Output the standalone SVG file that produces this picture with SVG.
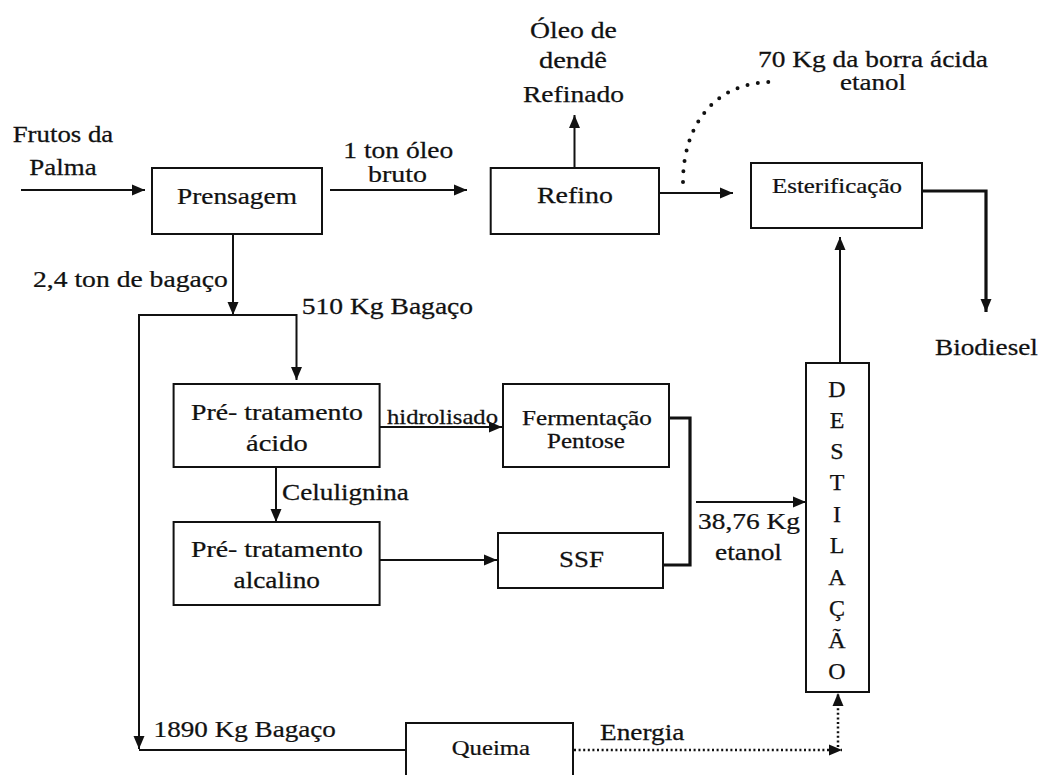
<svg xmlns="http://www.w3.org/2000/svg" width="1039" height="775" viewBox="0 0 1039 775">
<style>
text{font-family:'Liberation Serif','Times New Roman',serif;font-size:23px;fill:#111;stroke:#111;stroke-width:0.25}
.s21{font-size:21px}
.box{fill:#fff;stroke:#111;stroke-width:2}
.ln{fill:none;stroke:#111;stroke-width:2}
.thick{fill:none;stroke:#111;stroke-width:3.2}
.dot{fill:none;stroke:#111;stroke-width:2.5;stroke-dasharray:2 2.6}
.bigdot{fill:none;stroke:#111;stroke-width:4;stroke-linecap:round;stroke-dasharray:0 10.5}
.let{font-size:24px;text-anchor:middle}
</style>
<defs>
<marker id="ah" markerUnits="userSpaceOnUse" markerWidth="14" markerHeight="12" refX="13" refY="6" orient="auto">
<path d="M0,0.5 L13,6 L0,11.5 z" fill="#111"/>
</marker>
</defs>
<rect width="1039" height="775" fill="#fff"/>

<g id="connectors">
<line class="ln" x1="21" y1="190" x2="145" y2="190" marker-end="url(#ah)"/>
<line class="ln" x1="330" y1="190" x2="467" y2="190" marker-end="url(#ah)"/>
<line class="ln" x1="233" y1="234" x2="233" y2="315" marker-end="url(#ah)"/>
<polyline class="ln" points="139,749 139,315 296.5,315 296.5,380" marker-end="url(#ah)"/>
<line class="ln" x1="139" y1="700" x2="139" y2="749" marker-end="url(#ah)"/>
<line class="ln" x1="139" y1="750" x2="406" y2="750"/>
<line class="ln" x1="574.5" y1="168" x2="574.5" y2="115" marker-end="url(#ah)"/>
<line class="ln" x1="659" y1="193" x2="733" y2="193" marker-end="url(#ah)"/>
<path class="bigdot" d="M683,182 C683,125 715,82 772,82"/>
<polyline class="thick" points="922,191 986,191 986,312" marker-end="url(#ah)"/>
<line class="ln" x1="840" y1="363" x2="840" y2="237" marker-end="url(#ah)"/>
<line class="ln" x1="380" y1="427" x2="502" y2="427" marker-end="url(#ah)"/>
<line class="ln" x1="276" y1="467" x2="276" y2="522" marker-end="url(#ah)"/>
<line class="ln" x1="380" y1="560" x2="497" y2="560" marker-end="url(#ah)"/>
<polyline class="thick" points="669,418 690,418 690,565 664,565"/>
<line class="ln" x1="696" y1="502" x2="806" y2="502" marker-end="url(#ah)"/>
<line class="dot" x1="574" y1="750" x2="842" y2="750" marker-end="url(#ah)"/>
<line class="dot" x1="838" y1="747" x2="838" y2="693" marker-end="url(#ah)"/>
</g>

<g id="labels">
<text transform="translate(12.7,142) scale(1.166,1)">Frutos da</text>
<text transform="translate(29.3,175) scale(1.172,1)">Palma</text>
<text transform="translate(343.3,158) scale(1.196,1)">1 ton óleo</text>
<text transform="translate(368,181.7) scale(1.215,1)">bruto</text>
<text transform="translate(33,287) scale(1.202,1)">2,4 ton de bagaço</text>
<text transform="translate(301.7,314) scale(1.199,1)">510 Kg Bagaço</text>
<text transform="translate(530,38) scale(1.205,1)">Óleo de</text>
<text transform="translate(539,68) scale(1.238,1)">dendê</text>
<text transform="translate(523,102) scale(1.198,1)">Refinado</text>
<text transform="translate(758,67) scale(1.192,1)">70 Kg da borra ácida</text>
<text transform="translate(840,90) scale(1.174,1)">etanol</text>
<text transform="translate(935,355) scale(1.185,1)">Biodiesel</text>
<text class="s21" transform="translate(387,424) scale(1.175,1)">hidrolisado</text>
<text transform="translate(282,500) scale(1.183,1)">Celulignina</text>
<text transform="translate(698,529) scale(1.191,1)">38,76 Kg</text>
<text transform="translate(715,560) scale(1.192,1)">etanol</text>
<text transform="translate(153.6,737) scale(1.18,1)">1890 Kg Bagaço</text>
<text transform="translate(600,740) scale(1.188,1)">Energia</text>
</g>

<g id="prensagem">
<rect class="box" x="152" y="168" width="170" height="66"/>
<text transform="translate(177,204) scale(1.189,1)">Prensagem</text>
</g>
<g id="refino">
<rect class="box" x="490.7" y="168" width="168.3" height="66"/>
<text transform="translate(537,203) scale(1.214,1)">Refino</text>
</g>
<g id="esterificacao">
<rect class="box" x="751" y="163" width="171" height="65"/>
<text class="s21" transform="translate(772,193) scale(1.186,1)">Esterificação</text>
</g>
<g id="pre-acido">
<rect class="box" x="173.6" y="384" width="206" height="83"/>
<text transform="translate(191,420) scale(1.208,1)">Pré- tratamento</text>
<text transform="translate(246,450.7) scale(1.24,1)">ácido</text>
</g>
<g id="fermentacao">
<rect class="box" x="503" y="384" width="166" height="83"/>
<text class="s21" transform="translate(522,425) scale(1.198,1)">Fermentação</text>
<text class="s21" transform="translate(547,448) scale(1.194,1)">Pentose</text>
</g>
<g id="pre-alcalino">
<rect class="box" x="173.6" y="522" width="206" height="83"/>
<text transform="translate(191,557) scale(1.208,1)">Pré- tratamento</text>
<text transform="translate(233.5,588) scale(1.188,1)">alcalino</text>
</g>
<g id="ssf">
<rect class="box" x="498" y="533" width="165" height="55"/>
<text transform="translate(559,567) scale(1.17,1)">SSF</text>
</g>
<g id="destilacao">
<rect class="box" x="806" y="363" width="63" height="329"/>
<text class="let" x="837" y="397">D</text>
<text class="let" x="837" y="428">E</text>
<text class="let" x="837" y="459">S</text>
<text class="let" x="837" y="490">T</text>
<text class="let" x="837" y="522">I</text>
<text class="let" x="837" y="553">L</text>
<text class="let" x="837" y="585">A</text>
<text class="let" x="837" y="616">Ç</text>
<text class="let" x="837" y="648">Ã</text>
<text class="let" x="837" y="679">O</text>
</g>
<g id="queima">
<rect class="box" x="406" y="723" width="167" height="60"/>
<text class="s21" transform="translate(451.7,755) scale(1.178,1)">Queima</text>
</g>
</svg>
